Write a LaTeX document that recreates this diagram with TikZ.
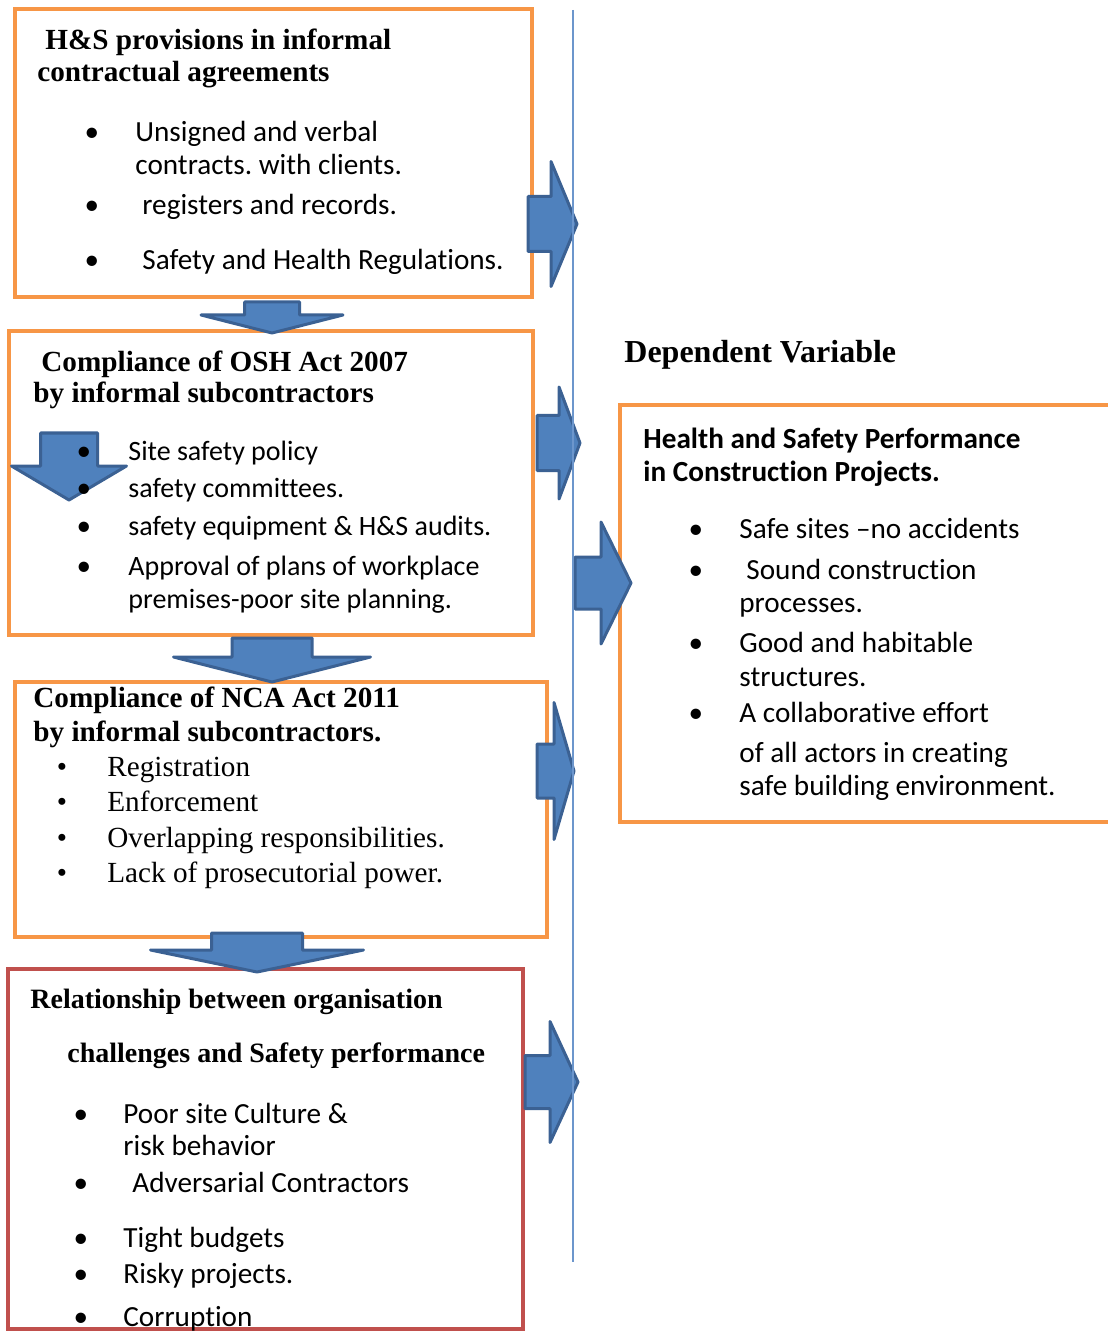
\documentclass[tikz,border=0pt]{standalone}
\usepackage{fontspec}
\setmainfont{Liberation Serif}
\setsansfont{Carlito}[Ligatures=NoCommon]
\usetikzlibrary{calc}
\frenchspacing

\definecolor{boxorange}{HTML}{F79646}
\definecolor{boxred}{HTML}{C0504D}
\definecolor{arrowfill}{HTML}{4F81BD}
\definecolor{arrowline}{HTML}{3B6193}
\definecolor{rulerblue}{HTML}{6C96CC}

\newcommand{\txtsize}{\fontsize{14.6}{17}\selectfont}
\newcommand{\smtxtsize}{\fontsize{14}{17}\selectfont}
% block arrows: x0 x1 x2 ymid shaft-half head-half
\newcommand{\rightblock}[6]{%
  \draw[blockarrow] (#1,#4-#5) -- (#2,#4-#5) -- (#2,#4-#6) -- (#3,#4)
    -- (#2,#4+#6) -- (#2,#4+#5) -- (#1,#4+#5) -- cycle;}
% xmid y0 y1 y2 shaft-half head-half
\newcommand{\downblock}[6]{%
  \draw[blockarrow] (#1-#5,#2) -- (#1+#5,#2) -- (#1+#5,#3) -- (#1+#6,#3)
    -- (#1,#4) -- (#1-#6,#3) -- (#1-#5,#3) -- cycle;}

\tikzset{
  frame/.style={draw=boxorange, line width=2pt},
  redframe/.style={draw=boxred, line width=2pt},
  blockarrow/.style={fill=arrowfill, draw=arrowline, line width=1.5pt, line join=round},
  headtxt/.style={font=\txtsize\bfseries, anchor=base west, inner sep=0pt},
  sanshead/.style={font=\sffamily\txtsize\bfseries, anchor=base west, inner sep=0pt},
  itemtxt/.style={font=\sffamily\txtsize, anchor=base west, inner sep=0pt},
  seritem/.style={font=\txtsize, anchor=base west, inner sep=0pt},
  bul/.style={font=\sffamily\txtsize, anchor=base, inner sep=0pt},
  serbul/.style={font=\txtsize, anchor=base, inner sep=0pt}
}

\begin{document}
\begin{tikzpicture}[x=0.5pt, y=-0.5pt]
  \useasboundingbox (0,0) rectangle (1107,1331);

  % boxes
  \draw[frame] (15,9) rectangle (532,297);
  \draw[frame] (9,331) rectangle (533,635);
  \draw[frame] (15,682) rectangle (547,937);
  \draw[redframe] (8,969) rectangle (523,1329);
  \draw[frame] (620,405) rectangle (1125,822);

  % arrows
  \downblock{272}{302}{315}{333}{27.5}{71}
  \downblock{272}{638}{657}{682}{40}{98.5}
  \downblock{257}{933}{950}{972}{45.5}{106.5}
  \downblock{69}{433}{466}{500}{28.5}{57.5}
  \rightblock{528}{551}{577}{224}{27.5}{62.5}
  \rightblock{537}{559}{580}{443}{27.5}{56}
  \rightblock{537}{554}{574}{771}{27}{68.5}
  \rightblock{575}{601}{631}{583}{26}{61}
  \rightblock{525}{550}{578}{1082}{26.5}{60.5}

  % divider
  \draw[rulerblue, line width=1pt] (573,10) -- (573,1262);

  % box 1
  \node[headtxt] (hs1) at (45,50) {H\&S provisions in informal};
  \node[headtxt] (hs2) at (37,82) {contractual agreements};
  \foreach \y in {142,215,270}
    \node[bul] (hsb\y) at (92,\y) {•};
  \node[itemtxt] (hsa) at (135,142) {Unsigned and verbal};
  \node[itemtxt] (hsb) at (135,175) {contracts. with clients.};
  \node[itemtxt] (hsc) at (142,215) {registers and records.};
  \node[itemtxt] (hsd) at (142,270) {Safety and Health Regulations.};

  % box 2
  \node[headtxt] (osh1) at (41,372) {Compliance of OSH Act 2007};
  \node[headtxt] (osh2) at (33,403) {by informal subcontractors};
  \foreach \y in {460,497,535,575}
    \node[bul] (oshb\y) at (84,\y) {•};
  \node[itemtxt, font=\sffamily\smtxtsize] (osha) at (128,460) {Site safety policy};
  \node[itemtxt, font=\sffamily\smtxtsize] (oshb) at (128,497) {safety committees.};
  \node[itemtxt, font=\sffamily\smtxtsize] (oshc) at (128,535) {safety equipment \& H\&S audits.};
  \node[itemtxt, font=\sffamily\smtxtsize] (oshd) at (128,575) {Approval of plans of workplace};
  \node[itemtxt, font=\sffamily\smtxtsize] (oshe) at (128,608) {premises-poor site planning.};

  % box 3
  \node[headtxt] (nca1) at (33,707) {Compliance of NCA Act 2011};
  \node[headtxt] (nca2) at (33,741) {by informal subcontractors.};
  \foreach \y in {776,811,847,882}
    \node[serbul] (ncab\y) at (62,\y) {•};
  \node[seritem] (ncaa) at (107,776) {Registration};
  \node[seritem] (ncab) at (107,811) {Enforcement};
  \node[seritem] (ncac) at (107,847) {Overlapping responsibilities.};
  \node[seritem] (ncad) at (107,882) {Lack of prosecutorial power.};

  % box 4
  \node[headtxt, font=\smtxtsize\bfseries] (org1) at (30,1008) {Relationship between organisation};
  \node[headtxt, font=\smtxtsize\bfseries] (org2) at (67,1062) {challenges and Safety performance};
  \foreach \y in {1123,1192,1247,1283,1326}
    \node[bul] (orgb\y) at (81,\y) {•};
  \node[itemtxt] (orga) at (123,1123) {Poor site Culture \&};
  \node[itemtxt] (orgb) at (123,1155) {risk behavior};
  \node[itemtxt] (orgc) at (132,1192) {Adversarial Contractors};
  \node[itemtxt] (orgd) at (123,1247) {Tight budgets};
  \node[itemtxt] (orge) at (123,1283) {Risky projects.};
  \node[itemtxt] (orgf) at (123,1326) {Corruption};

  % dependent variable
  \node[headtxt, font=\fontsize{16}{19}\selectfont\bfseries] (dep) at (624,363) {Dependent Variable};
  \node[sanshead] (perf1) at (643,449) {Health and Safety Performance};
  \node[sanshead] (perf2) at (643,481) {in Construction Projects.};
  \foreach \y in {538,579,652,722}
    \node[bul] (perfb\y) at (696,\y) {•};
  \node[itemtxt] (perfa) at (739,538) {Safe sites –no accidents};
  \node[itemtxt] (perfb) at (746,579) {Sound construction};
  \node[itemtxt] (perfc) at (739,612) {processes.};
  \node[itemtxt] (perfd) at (739,652) {Good and habitable};
  \node[itemtxt] (perfe) at (739,686) {structures.};
  \node[itemtxt] (perff) at (739,722) {A collaborative effort};
  \node[itemtxt] (perfg) at (739,762) {of all actors in creating};
  \node[itemtxt] (perfh) at (739,795) {safe building environment.};
\end{tikzpicture}
\end{document}
